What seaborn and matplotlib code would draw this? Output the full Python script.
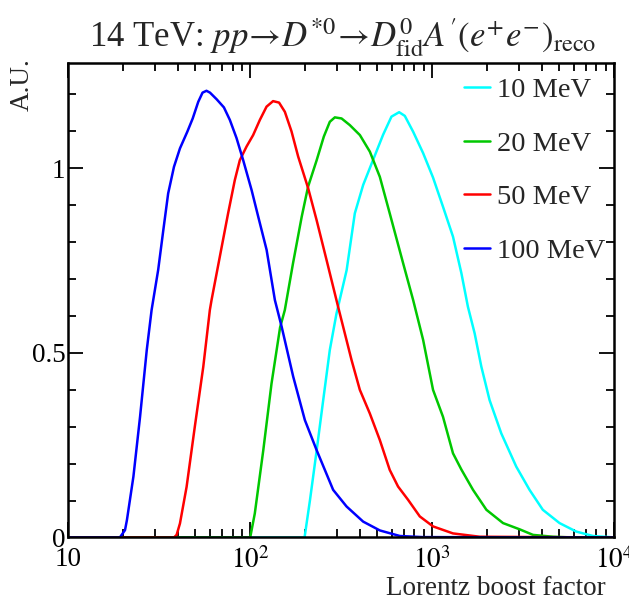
import numpy as np
import pandas as pd
import matplotlib
matplotlib.use("Agg")
import matplotlib.pyplot as plt
import matplotlib.ticker as mticker
import seaborn as sns

# Lorentz boost distributions (A.U.)
gamma_10 = [10, 199, 213, 232, 252, 274, 298, 339, 376, 418, 474, 538, 598, 659, 708, 787,
            893, 1012, 1148, 1303, 1449, 1574, 1714, 1865, 2071, 2401, 2902, 3434, 4062,
            5020, 6205, 7669, 9460, 10000]
au_10 = [0, 0, 0.10, 0.236, 0.372, 0.508, 0.606, 0.724, 0.878, 0.955, 1.023, 1.091, 1.14,
         1.152, 1.142, 1.099, 1.041, 0.975, 0.896, 0.815, 0.716, 0.625, 0.553, 0.463, 0.372,
         0.282, 0.192, 0.129, 0.075, 0.039, 0.016, 0.004, 0.001, 0]

gamma_20 = [10, 100, 106, 118, 131, 146, 155, 172, 192, 208, 232, 254, 274, 292, 318, 353,
            401, 455, 516, 585, 693, 787, 893, 1012, 1148, 1303, 1449, 1679, 1989, 2455,
            3033, 3589, 4625, 5930, 10000]
au_20 = [0, 0, 0.065, 0.236, 0.417, 0.569, 0.616, 0.743, 0.869, 0.95, 1.022, 1.086, 1.126,
         1.138, 1.135, 1.117, 1.09, 1.045, 0.977, 0.878, 0.743, 0.643, 0.535, 0.40, 0.327,
         0.228, 0.184, 0.129, 0.075, 0.039, 0.022, 0.007, 0.002, 0, 0]

gamma_50 = [10, 38.1, 39.4, 41.1, 44.7, 49.6, 55.2, 60.0, 61.3, 68.1, 75.6, 82.3, 87.7, 95.5,
            103.8, 113, 123, 133.6, 144.1, 155.1, 168.7, 183.5, 208.3, 231.7, 262.8, 304.3,
            324.3, 360.6, 400.6, 454.6, 516, 585, 650, 738, 856, 1012, 1303, 1827, 10000]
au_50 = [0, 0, 0.007, 0.038, 0.137, 0.30, 0.462, 0.616, 0.643, 0.761, 0.878, 0.968, 1.022,
         1.059, 1.09, 1.131, 1.167, 1.182, 1.178, 1.153, 1.10, 1.032, 0.946, 0.86, 0.752,
         0.625, 0.571, 0.481, 0.40, 0.336, 0.264, 0.183, 0.138, 0.102, 0.057, 0.03, 0.011,
         0.002, 0]

gamma_100 = [10, 19.2, 20.5, 21.0, 22.8, 24.8, 27.0, 28.7, 31.2, 33.3, 35.4, 38.1, 41.1, 45.1,
             48.3, 51.8, 54.7, 57.5, 60.1, 65.4, 71.7, 77.3, 84.1, 91.5, 101.8, 110.7, 123.1,
             136.7, 148.9, 172.3, 199.8, 231.7, 285.8, 338.6, 417.8, 516.5, 665, 889, 10000]
au_100 = [0, 0, 0.02, 0.047, 0.165, 0.327, 0.508, 0.616, 0.725, 0.833, 0.932, 1.004, 1.054,
          1.099, 1.135, 1.18, 1.205, 1.21, 1.205, 1.187, 1.165, 1.131, 1.082, 1.022, 0.941,
          0.869, 0.779, 0.643, 0.571, 0.436, 0.318, 0.237, 0.129, 0.084, 0.043, 0.019,
          0.004, 0.001, 0]

labels = ["10 MeV", "20 MeV", "50 MeV", "100 MeV"]
colors = ["#00ffff", "#00c800", "#ff0000", "#0000ff"]

frames = []
for lab, g, a in zip(labels, [gamma_10, gamma_20, gamma_50, gamma_100],
                     [au_10, au_20, au_50, au_100]):
    frames.append(pd.DataFrame({"gamma": g, "au": a, "mass": lab}))
df = pd.concat(frames, ignore_index=True)

sns.set_style("ticks")
plt.rcParams["font.family"] = ["Liberation Serif", "DejaVu Serif"]
plt.rcParams["mathtext.fontset"] = "stix"

fig = plt.figure(figsize=(6.29, 6.01), dpi=100)
ax = fig.add_axes([0.1086, 0.1057, 0.8675, 0.7903])
ax.set_xscale("log")

sns.lineplot(data=df, x="gamma", y="au", hue="mass", hue_order=labels,
             palette=colors, estimator=None, sort=False, linewidth=1.8, ax=ax)

ax.set_xlim(10, 1e4)
ax.set_ylim(0, 1.2866)

ax.xaxis.set_major_locator(mticker.FixedLocator([10, 100, 1000, 10000]))
ax.xaxis.set_major_formatter(mticker.FixedFormatter(["10", "$10^2$", "$10^3$", "$10^4$"]))
ax.xaxis.set_minor_locator(mticker.LogLocator(base=10, subs=np.arange(2, 10)))
ax.xaxis.set_minor_formatter(mticker.NullFormatter())
ax.yaxis.set_major_locator(mticker.FixedLocator([0, 0.5, 1]))
ax.yaxis.set_major_formatter(mticker.FixedFormatter(["0", "0.5", "1"]))
ax.yaxis.set_minor_locator(mticker.MultipleLocator(0.1))

ax.tick_params(which="both", direction="in", top=True, right=True, width=1.3,
               labelsize=19.5, colors="black")
ax.tick_params(which="major", length=11)
ax.tick_params(which="minor", length=5.5)
ax.tick_params(axis="x", pad=7)
ax.tick_params(axis="y", pad=2)
for s in ax.spines.values():
    s.set_visible(True)
    s.set_linewidth(1.8)
    s.set_color("black")

ax.set_xlabel("Lorentz boost factor", fontsize=19.5, ha="right", va="center")
ax.xaxis.set_label_coords(0.985, -0.107)
ax.set_ylabel("A.U.", fontsize=19.5, ha="right", va="center")
ax.yaxis.set_label_coords(-0.085, 1.008)

fig.suptitle(r"14 TeV: $pp\!\rightarrow\! D^{*0}\!\rightarrow\! D^{0}_{\rm fid}A'(e^{+}e^{-})_{\rm reco}$",
             fontsize=25, x=0.545, y=0.972)

handles, _ = ax.get_legend_handles_labels()
ax.legend(handles, labels, frameon=False, fontsize=20.5, loc="upper right",
          bbox_to_anchor=(1.01, 1.0), handlelength=0.9, handletextpad=0.25,
          labelspacing=0.98, borderaxespad=0.2, borderpad=0.3)

fig.savefig("out.png", dpi=100)
